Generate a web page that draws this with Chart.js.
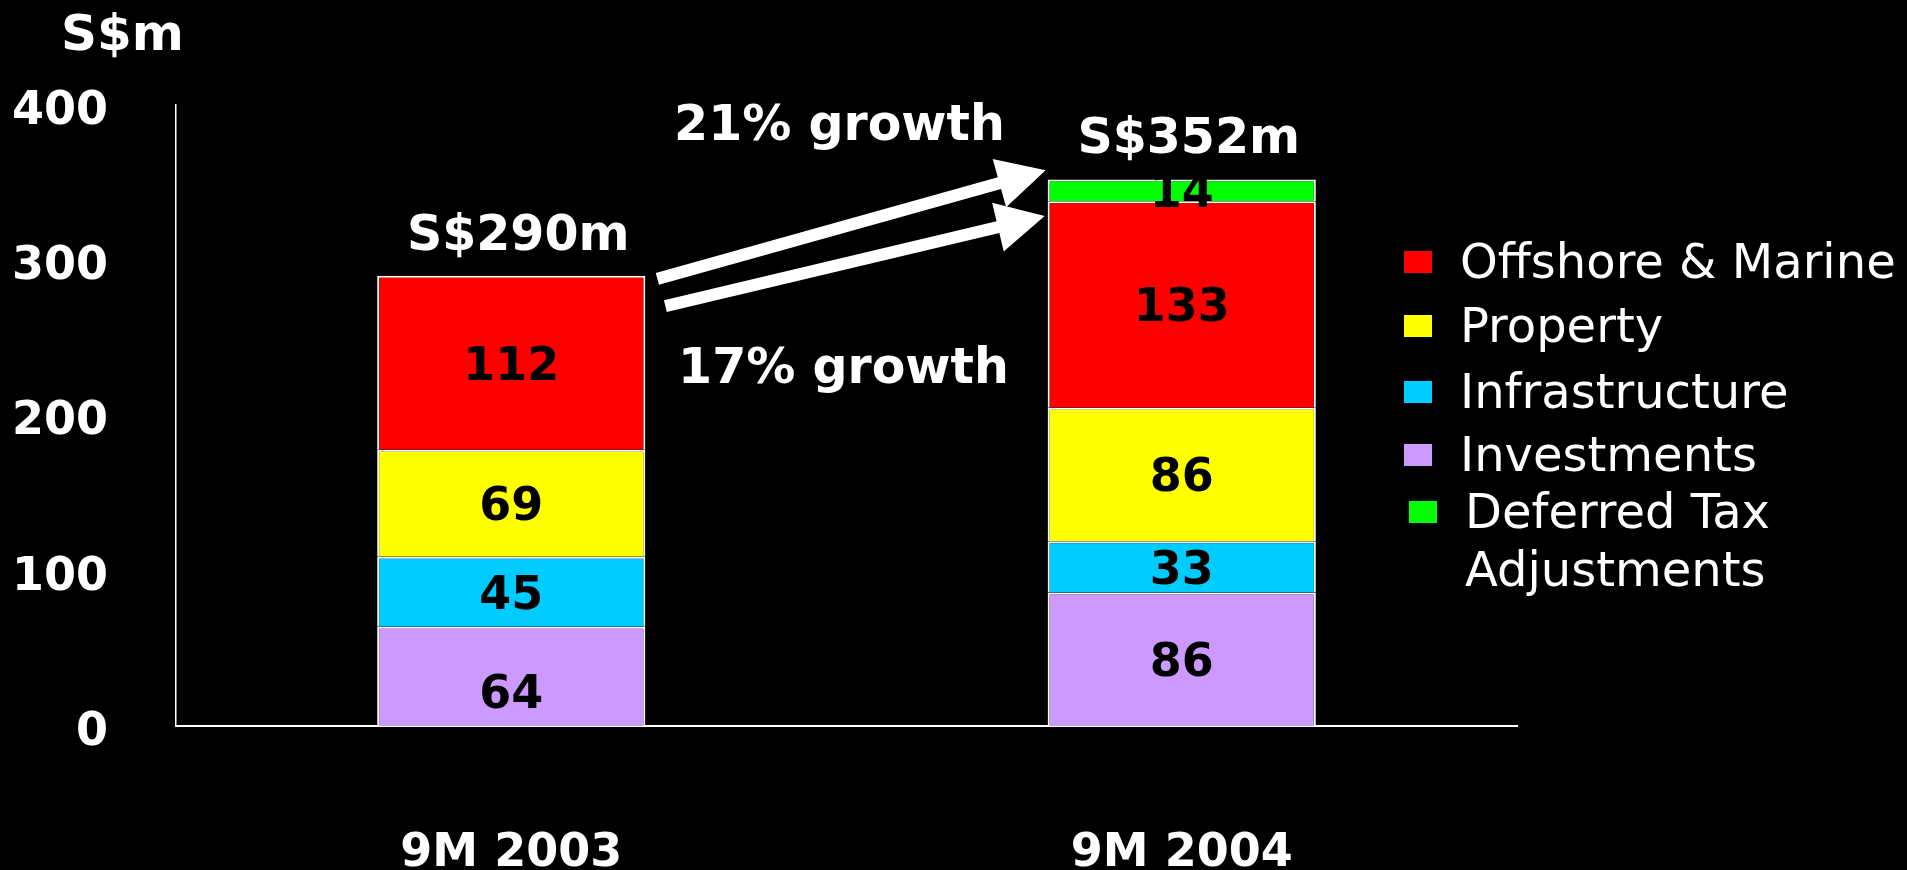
<!DOCTYPE html>
<html>
<head>
<meta charset="utf-8">
<title>Profit by segment, 9M 2003 vs 9M 2004</title>
<script src="https://cdn.jsdelivr.net/npm/chart.js@4.4.1/dist/chart.umd.min.js"></script>
<style>
  html, body { margin: 0; padding: 0; background: #000; }
  #wrap { position: relative; width: 1907px; height: 870px; }
</style>
</head>
<body>
<div id="wrap"><canvas id="chart"></canvas></div>
<script>
// ---- data (S$m) ----
const categories     = ['9M 2003', '9M 2004'];
const investments    = [64, 86];
const infrastructure = [45, 33];
const property       = [69, 86];
const offshoreMarine = [112, 133];
const deferredTax    = [null, 14];
const yTickValues    = [0, 100, 200, 300, 400];
const unitLabel      = 'S$m';

const FONT = "'DejaVu Sans', Verdana, sans-serif";

// totals per period, with and without the deferred tax adjustment
const operating = categories.map((_, i) =>
  investments[i] + infrastructure[i] + property[i] + offshoreMarine[i]);
const totals = categories.map((_, i) => operating[i] + (deferredTax[i] || 0));
const growthTotal = Math.round((totals[1] - totals[0]) / totals[0] * 100);
const growthOperating = Math.round((operating[1] - operating[0]) / operating[0] * 100);

const datasets = [
  { label: 'Investments',       data: investments,    backgroundColor: '#CC99FF' },
  { label: 'Infrastructure',    data: infrastructure, backgroundColor: '#00CCFF' },
  { label: 'Property',          data: property,       backgroundColor: '#FFFF00' },
  { label: 'Offshore & Marine', data: offshoreMarine, backgroundColor: '#FF0000' },
  { label: ['Deferred Tax', 'Adjustments'], data: deferredTax, backgroundColor: '#00FF00' }
].map(d => Object.assign(d, { borderColor: '#FFFFFF', borderWidth: 2, stack: 'all' }));

// legend rows: dataset index, marker left, text left, row centre y
const legendRows = [
  { ds: 3, mx: 1404, tx: 1460, cy: 262 },
  { ds: 2, mx: 1404, tx: 1460, cy: 326 },
  { ds: 1, mx: 1404, tx: 1460, cy: 392 },
  { ds: 0, mx: 1404, tx: 1460, cy: 455 },
  { ds: 4, mx: 1409, tx: 1465, cy: 512 }
];

function drawArrow(ctx, tx, ty, px, py) {
  const dx = px - tx, dy = py - ty;
  const len = Math.hypot(dx, dy);
  const ux = dx / len, uy = dy / len;
  const nx = -uy, ny = ux;
  const h = 6, H = 25, L = 48;
  const bx = px - ux * L, by = py - uy * L;
  ctx.beginPath();
  ctx.moveTo(tx + nx * h, ty + ny * h);
  ctx.lineTo(bx + nx * h, by + ny * h);
  ctx.lineTo(bx + nx * H, by + ny * H);
  ctx.lineTo(px, py);
  ctx.lineTo(bx - nx * H, by - ny * H);
  ctx.lineTo(bx - nx * h, by - ny * h);
  ctx.lineTo(tx - nx * h, ty - ny * h);
  ctx.closePath();
  ctx.fill();
}

const overlay = {
  id: 'overlay',
  beforeDraw(chart) {
    const { ctx, width, height } = chart;
    ctx.save();
    ctx.fillStyle = '#000';
    ctx.fillRect(0, 0, width, height);
    ctx.restore();
  },
  afterDatasetsDraw(chart) {
    const { ctx, scales: { y } } = chart;
    ctx.save();

    // segment values
    ctx.fillStyle = '#000';
    ctx.textAlign = 'center';
    ctx.textBaseline = 'middle';
    ctx.font = `bold 46px ${FONT}`;
    chart.data.datasets.forEach((ds, di) => {
      const meta = chart.getDatasetMeta(di);
      meta.data.forEach((bar, i) => {
        const v = ds.data[i];
        if (v == null) return;
        const p = bar.getProps(['x', 'y', 'base'], true);
        let cy = (p.y + p.base) / 2 + 5;
        if (di === 0 && i === 0) cy += 15;
        ctx.fillText(String(v), p.x, cy);
      });
    });

    // totals above each bar
    ctx.fillStyle = '#FFF';
    ctx.font = `bold 49px ${FONT}`;
    const firstMeta = chart.getDatasetMeta(0);
    totals.forEach((t, i) => {
      const bx = firstMeta.data[i].x;
      ctx.fillText('S$' + t + 'm', bx + 7, y.getPixelForValue(t) - 39);
    });

    // growth arrows between the bars
    const b0 = firstMeta.data[0], b1 = firstMeta.data[1];
    const right0 = b0.x + b0.width / 2;
    const left1 = b1.x - b1.width / 2;
    drawArrow(ctx, right0 + 12, y.getPixelForValue(288), left1 - 2, y.getPixelForValue(358));
    drawArrow(ctx, right0 + 20, y.getPixelForValue(270.5), left1 - 3, y.getPixelForValue(328.5));

    const midX = (b0.x + b1.x) / 2;
    ctx.fillText(growthTotal + '% growth', midX - 7, y.getPixelForValue(388) + 4);
    ctx.fillText(growthOperating + '% growth', midX - 3, y.getPixelForValue(232) + 4);

    // unit label
    ctx.textAlign = 'left';
    ctx.font = `bold 50px ${FONT}`;
    ctx.fillText(unitLabel, 61, 37);

    // legend
    ctx.font = `48px ${FONT}`;
    legendRows.forEach(r => {
      const ds = chart.data.datasets[r.ds];
      ctx.fillStyle = ds.backgroundColor;
      ctx.fillRect(r.mx, r.cy - 11, 28, 22);
      ctx.fillStyle = '#FFF';
      const lines = Array.isArray(ds.label) ? ds.label : [ds.label];
      lines.forEach((t, k) => ctx.fillText(t, r.tx, r.cy + 4 + k * 58));
    });

    ctx.restore();
  }
};

new Chart(document.getElementById('chart'), {
  type: 'bar',
  data: { labels: categories, datasets },
  plugins: [overlay],
  options: {
    responsive: true,
    maintainAspectRatio: false,
    animation: false,
    layout: { padding: { top: 105, right: 390, bottom: 0, left: 0 } },
    plugins: {
      legend: { display: false },
      tooltip: { enabled: false },
      title: { display: false }
    },
    datasets: { bar: { categoryPercentage: 1, barPercentage: 0.4 } },
    scales: {
      x: {
        stacked: true,
        grid: { display: false, drawTicks: false },
        border: { display: true, color: '#FFFFFF', width: 2 },
        ticks: { color: '#FFFFFF', padding: 100, font: { family: FONT, size: 46, weight: 'bold' } },
        afterFit(s) { s.height = 144; }
      },
      y: {
        stacked: true,
        min: yTickValues[0],
        max: yTickValues[yTickValues.length - 1],
        grid: { display: false, drawTicks: false },
        border: { display: true, color: '#FFFFFF', width: 1.5 },
        ticks: { stepSize: yTickValues[1] - yTickValues[0], color: '#FFFFFF', padding: 68,
                 labelOffset: 7, font: { family: FONT, size: 46, weight: 'bold' } },
        afterFit(s) { s.width = 176; }
      }
    }
  }
});
</script>
</body>
</html>
